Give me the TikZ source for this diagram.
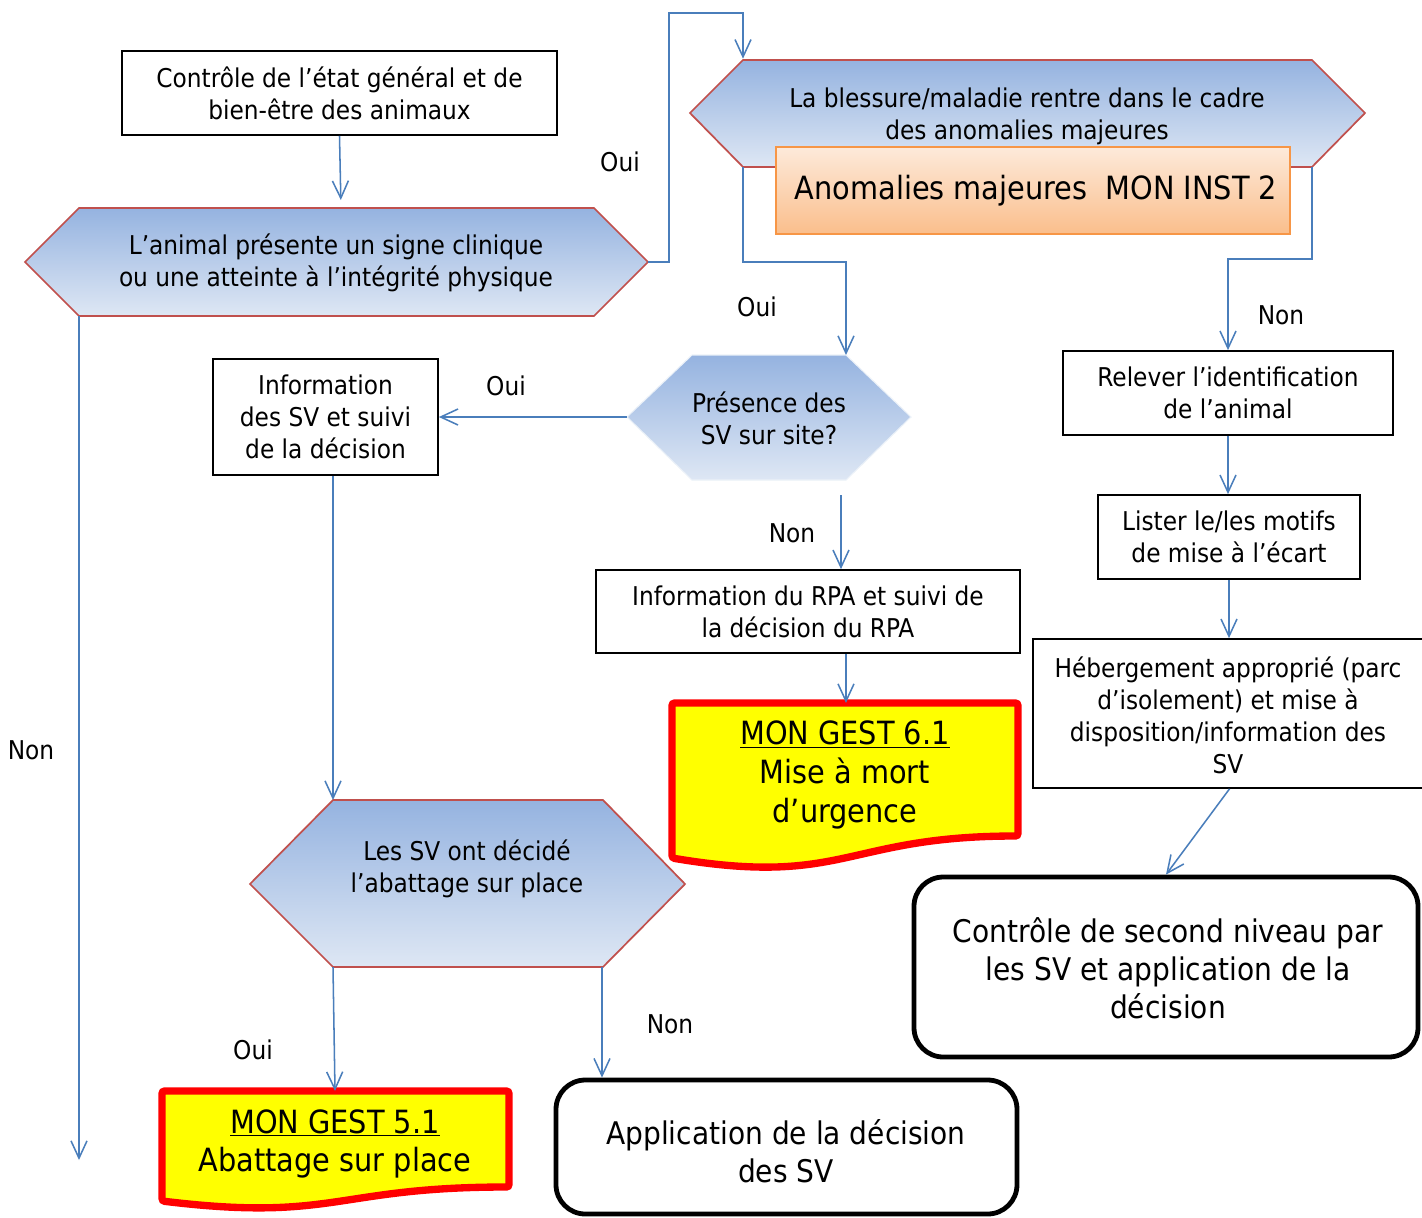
\documentclass[tikz,border=0pt]{standalone}
\usepackage{fontspec}
\setmainfont{DejaVu Sans Condensed}
\usetikzlibrary{arrows.meta,fit,calc}
\definecolor{cblue}{RGB}{74,126,187}
\definecolor{hexred}{RGB}{192,80,77}
\definecolor{hextop}{RGB}{149,179,224}
\definecolor{hexbot}{RGB}{222,231,244}
\definecolor{orgtop}{RGB}{253,234,218}
\definecolor{orgbot}{RGB}{250,190,140}
\definecolor{orgline}{RGB}{247,150,70}
\definecolor{docred}{RGB}{255,0,0}
\definecolor{docyel}{RGB}{255,255,0}
\newcommand\fsn{\fontsize{19.4}{24}\selectfont}
\newcommand\fsb{\fontsize{23.4}{28.5}\selectfont}
\newcommand\fsd{\fontsize{24}{29}\selectfont}
\tikzset{
  conn/.style={draw=cblue, line width=1.15pt, -{Straight Barb[length=13pt,width=12pt,line width=1.15pt]}},
  box/.style={draw=black, line width=1.3pt, inner sep=0pt},
  rbox/.style={draw=black, line width=3.6pt, rounded corners=22pt, inner sep=0pt},
  hexa/.style={top color=hextop, bottom color=hexbot, draw=hexred, line width=1.3pt},
  txt/.style={align=center, font=\fsn, inner sep=0pt},
  btxt/.style={align=center, font=\fsb, inner sep=0pt},
  dtxt/.style={align=center, font=\fsd, inner sep=0pt},
  lbl/.style={font=\fsn, inner sep=0pt},
  docu/.style={fill=docyel, draw=docred, line width=5.5pt, rounded corners=2pt}
}
\begin{document}
\begin{tikzpicture}[x=0.75pt,y=-0.75pt]
\useasboundingbox (0,0) rectangle (1422,1218);

% ---- top-left box
\node[box, fit={(122,51) (557,135)}] (A) {};
\node[txt] (At) at (A.center) {Contrôle de l’état général et de\\bien-être des animaux};

% ---- hexagon B
\path[hexa] (25,262) -- (79,208) -- (594,208) -- (648,262) -- (594,316) -- (79,316) -- cycle;
\coordinate (Bl) at (25,262);
\coordinate (Br) at (648,262);
\coordinate (Bbl) at (79,316);
\coordinate (Btop) at (341,208);
\node[txt] (B) at (336,263) {L’animal présente un signe clinique\\ou une atteinte à l’intégrité physique};

% ---- hexagon C
\path[hexa] (690,113) -- (743,60) -- (1312,60) -- (1365,113) -- (1312,167) -- (743,167) -- cycle;
\coordinate (Ctl) at (743,60);
\coordinate (Cbl) at (743,167);
\coordinate (Cbr) at (1312,167);
\node[txt] (C) at (1027,116) {La blessure/maladie rentre dans le cadre\\des anomalies majeures};

% ---- orange box D
\node[fit={(776,147) (1290,234)}, inner sep=0pt, top color=orgtop, bottom color=orgbot, draw=orgline, line width=1.3pt] (D) {};
\node[dtxt] (Dt) at (1036,191) {Anomalies majeures\ \ MON INST 2};

% ---- hexagon E
\path[top color=hextop, bottom color=hexbot, draw=hexbot!60!white, line width=0.8pt] (627,417) -- (692,355) -- (846,355) -- (911,417) -- (846,480) -- (692,480) -- cycle;
\coordinate (El) at (627,417);
\coordinate (Etr) at (846,355);
\coordinate (Eb) at (841,495);
\node[txt] (E) at (769,418) {Présence des\\SV sur site?};

% ---- boxes
\node[box, fit={(213,359) (438,475)}] (F) {};
\node[txt] (Ft) at (F.center) {Information\\des SV et suivi\\de la décision};
\node[box, fit={(596,570) (1020,653)}] (G) {};
\node[txt] (Gt) at (G.center) {Information du RPA et suivi de\\la décision du RPA};
\node[box, fit={(1063,351) (1393,435)}] (I) {};
\node[txt] (It) at (I.center) {Relever l’identification\\de l’animal};
\node[box, fit={(1098,495) (1360,579)}] (J) {};
\node[txt] (Jt) at (J.center) {Lister le/les motifs\\de mise à l’écart};
\node[box, fit={(1033,639) (1426,788)}] (K) {};
\node[txt] (Kt) at (1228,715) {Hébergement approprié (parc\\d’isolement) et mise à\\disposition/information des\\SV};

% ---- rounded boxes
\node[rbox, fit={(914,877) (1418,1057)}] (L) {};
\node[btxt] (Lt) at (1168,968) {Contrôle de second niveau par\\les SV et application de la\\décision};
\node[rbox, fit={(556,1080) (1017,1214)}] (O) {};
\node[btxt] (Ot) at (786,1151) {Application de la décision\\des SV};

% ---- document H
\path[docu] (672,703) -- (1018,703) -- (1018,836) .. controls (845,836) and (845,887) .. (672,858) -- cycle;
\coordinate (Htop) at (846,703);
\node[dtxt] (H) at (845,775) {\underline{MON GEST 6.1}\\Mise à mort\\d’urgence};

% ---- hexagon M
\path[hexa] (250,884) -- (333,800) -- (603,800) -- (685,884) -- (603,967) -- (333,967) -- cycle;
\coordinate (Mtl) at (333,800);
\coordinate (Mbl) at (333,967);
\coordinate (Mbr) at (602,967);
\node[txt] (M) at (467,869) {Les SV ont décidé\\l’abattage sur place};

% ---- document N
\path[docu] (162,1091) -- (509,1091) -- (509,1187) .. controls (335,1187) and (335,1222) .. (162,1201) -- cycle;
\coordinate (Ntop) at (335,1091);
\node[dtxt] (N) at (335,1144) {\underline{MON GEST 5.1}\\Abattage sur place};

\coordinate (Nend) at (79,1160);

% ---- connectors
\draw[conn, shorten >=6pt] (A.south) -- (Btop);
\draw[conn, shorten >=1pt] (Br) -- ++(21,0) -- ++(0,-249) -| (Ctl);
\draw[conn] (Cbl) -- ++(0,95) -| (Etr);
\draw[conn] (Cbr) -- ++(0,92) -| (I.north);
\draw[conn] (El) -- (F.east);
\draw[conn] (Eb) -- (Eb |- G.north);
\draw[conn] (Htop |- G.south) -- (Htop);
\draw[conn] (I.south) -- (I.south |- J.north);
\draw[conn] (J.south) -- (J.south |- K.north);
\draw[conn] (K.south) -- (L.north);
\draw[conn] (Bbl) -- (Nend);
\draw[conn] (F.south -| Mtl) -- (Mtl);
\draw[conn] (Mbl) -- (Ntop);
\draw[conn] (Mbr) -- (Mbr |- O.north);

% ---- labels
\node[lbl] (l1) at (620,162) {Oui};
\node[lbl] (l2) at (757,307) {Oui};
\node[lbl] (l3) at (1281,315) {Non};
\node[lbl] (l4) at (506,386) {Oui};
\node[lbl] (l5) at (792,533) {Non};
\node[lbl] (l6) at (31,750) {Non};
\node[lbl] (l7) at (253,1050) {Oui};
\node[lbl] (l8) at (670,1024) {Non};
\end{tikzpicture}
\end{document}
